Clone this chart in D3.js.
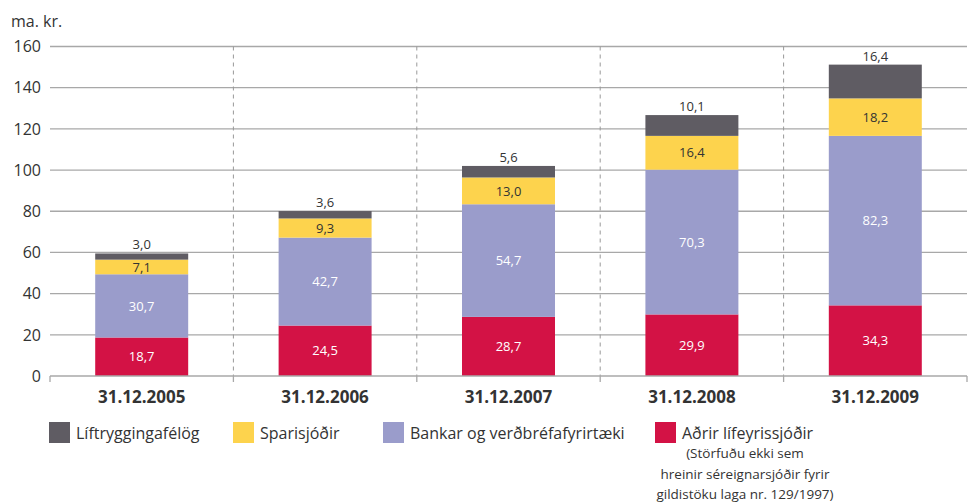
<!DOCTYPE html>
<html>
<head>
<meta charset="utf-8">
<script src="https://cdn.jsdelivr.net/npm/d3@7"></script>
<style>
  body { margin: 0; background: #fff; }
  text { font-family: "Open Sans", "Noto Sans", sans-serif; fill: #333; }
</style>
</head>
<body>
<div id="chart"></div>
<script>
const dates = ["31.12.2005", "31.12.2006", "31.12.2007", "31.12.2008", "31.12.2009"];
const seriesNames = ["Aðrir lífeyrissjóðir", "Bankar og verðbréfafyrirtæki", "Sparisjóðir", "Líftryggingafélög"];
const adrir = [18.7, 24.5, 28.7, 29.9, 34.3];
const bankar = [30.7, 42.7, 54.7, 70.3, 82.3];
const sparisjodir = [7.1, 9.3, 13.0, 16.4, 18.2];
const liftrygg = [3.0, 3.6, 5.6, 10.1, 16.4];
const yTicks = [0, 20, 40, 60, 80, 100, 120, 140, 160];
const legendOrder = ["Líftryggingafélög", "Sparisjóðir", "Bankar og verðbréfafyrirtæki", "Aðrir lífeyrissjóðir"];
const noteLines = ["(Störfuðu ekki sem", "hreinir  séreignarsjóðir fyrir", "gildistöku laga nr. 129/1997)"];

const colors = {
  "Aðrir lífeyrissjóðir": "#d31245",
  "Bankar og verðbréfafyrirtæki": "#9a9ccb",
  "Sparisjóðir": "#fdd34d",
  "Líftryggingafélög": "#5f5c63"
};
const labelFill = {
  "Aðrir lífeyrissjóðir": "#fff",
  "Bankar og verðbréfafyrirtæki": "#fff",
  "Sparisjóðir": "#333",
  "Líftryggingafélög": "#333"
};

const W = 971, H = 502;
const margin = { top: 46.5, right: 4, bottom: 126, left: 50 };
const width = W - margin.left - margin.right;
const height = H - margin.top - margin.bottom;

const svg = d3.select("#chart").append("svg")
  .attr("width", W).attr("height", H);
const g = svg.append("g").attr("transform", `translate(${margin.left},${margin.top})`);

const rows = dates.map((d, i) => ({
  date: d,
  "Aðrir lífeyrissjóðir": adrir[i],
  "Bankar og verðbréfafyrirtæki": bankar[i],
  "Sparisjóðir": sparisjodir[i],
  "Líftryggingafélög": liftrygg[i]
}));
const stacked = d3.stack().keys(seriesNames)(rows);

const x = d3.scaleBand().domain(dates).range([0, width]).paddingInner(0).paddingOuter(0);
const y = d3.scaleLinear().domain([0, 160]).range([height, 0]);
const barW = x.bandwidth() * 0.507;

// gridlines
g.append("g").selectAll("line").data(yTicks.filter(t => t > 0)).join("line")
  .attr("x1", 0).attr("x2", width)
  .attr("y1", d => y(d)).attr("y2", d => y(d))
  .attr("stroke", "#a8a8a8").attr("stroke-width", 1.3);

// dashed dividers
g.append("g").selectAll("line").data(dates.slice(1)).join("line")
  .attr("x1", d => x(d)).attr("x2", d => x(d))
  .attr("y1", 0).attr("y2", height)
  .attr("stroke", "#999").attr("stroke-width", 1).attr("stroke-dasharray", "4,4");

// y tick labels
g.append("g").selectAll("text").data(yTicks).join("text")
  .attr("x", -9).attr("y", d => y(d)).attr("dy", "0.36em")
  .attr("text-anchor", "end").style("font-size", "16px")
  .text(d => d);

svg.append("text").attr("x", 11).attr("y", 27)
  .style("font-size", "16px").text("ma. kr.");

// bars
const layer = g.append("g").selectAll("g").data(stacked).join("g")
  .attr("fill", d => colors[d.key]);
layer.selectAll("rect").data(d => d).join("rect")
  .attr("x", d => x(d.data.date) + (x.bandwidth() - barW) / 2)
  .attr("width", barW)
  .attr("y", d => y(d[1]))
  .attr("height", d => y(d[0]) - y(d[1]));

// value labels
stacked.forEach(s => {
  const top = s.key === "Líftryggingafélög";
  g.append("g").selectAll("text").data(s).join("text")
    .attr("x", d => x(d.data.date) + x.bandwidth() / 2)
    .attr("y", d => top ? y(d[1]) - 4 : (y(d[0]) + y(d[1])) / 2)
    .attr("dy", top ? "0" : "0.36em")
    .attr("text-anchor", "middle")
    .style("font-size", "13px")
    .style("fill", labelFill[s.key])
    .text(d => d3.format(".1f")(d[1] - d[0]).replace(".", ","));
});

// x axis line + ticks
g.append("line").attr("x1", 0).attr("x2", width)
  .attr("y1", height).attr("y2", height)
  .attr("stroke", "#a8a8a8").attr("stroke-width", 1.5);
g.append("g").selectAll("line").data(d3.range(dates.length + 1)).join("line")
  .attr("x1", i => i * x.step()).attr("x2", i => i * x.step())
  .attr("y1", height).attr("y2", height + 6)
  .attr("stroke", "#a8a8a8").attr("stroke-width", 1.3);

g.append("g").selectAll("text").data(dates).join("text")
  .attr("x", d => x(d) + x.bandwidth() / 2)
  .attr("y", height + 27)
  .attr("text-anchor", "middle")
  .style("font-size", "17px").style("font-weight", "bold")
  .text(d => d);

// legend
const legendX = [49, 233, 383, 655];
const leg = svg.append("g").selectAll("g").data(legendOrder).join("g")
  .attr("transform", (d, i) => `translate(${legendX[i]},422)`);
leg.append("rect").attr("width", 21).attr("height", 21).attr("fill", d => colors[d]);
leg.append("text").attr("x", 27).attr("y", 17)
  .style("font-size", "16px").text(d => d);

svg.append("g").selectAll("text").data(noteLines).join("text")
  .attr("x", 745).attr("y", (d, i) => 458 + i * 20.5)
  .attr("text-anchor", "middle")
  .style("font-size", "13.5px")
  .text(d => d);
</script>
</body>
</html>
